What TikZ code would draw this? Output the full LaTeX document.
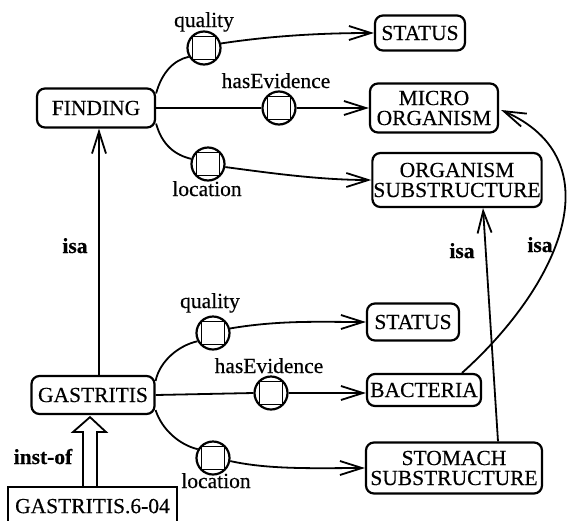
\documentclass[tikz,border=0pt]{standalone}
\usepackage{fontspec}
\setmainfont{Liberation Serif}[FakeBold=0.4]
\usetikzlibrary{arrows.meta,calc}
\begin{document}
\begin{tikzpicture}[x=1pt,y=-1pt,
  every node/.style={font=\fontsize{21.5}{20}\selectfont},
  box/.style={draw,line width=2.2pt,rounded corners=8pt,inner sep=1pt,align=center},
  rel/.style={draw,circle,line width=2.2pt,minimum size=33pt,inner sep=0pt,
    path picture={\draw[line width=1.8pt] ($(path picture bounding box.center)+(-11.5,-11.5)$) rectangle ++(23,23);}},
  conn/.style={line width=1.8pt},
  arr/.style={conn,-{Straight Barb[length=22pt,width=14pt,line width=1.8pt]}},
  lab/.style={anchor=base,inner sep=0pt},
  blab/.style={lab,font=\fontsize{21.5}{20}\selectfont\bfseries}]
\useasboundingbox (0,0) rectangle (570,520);

% upper part
\node[box,minimum width=118pt,minimum height=39pt] (find) at (96,108) {FINDING};
\node[rel] (q1) at (204,48) {};
\node[rel] (h1) at (279,108) {};
\node[rel] (l1) at (208,164) {};
\node[box,minimum width=90pt,minimum height=35pt] (st1) at (420,33) {STATUS};
\node[box,minimum width=128pt,minimum height=49pt] (micro) at (434,108) {MICRO\\ORGANISM};
\node[box,minimum width=169pt,minimum height=54pt] (osub) at (457,180) {ORGANISM\\SUBSTRUCTURE};

% lower part
\node[box,minimum width=123pt,minimum height=38pt] (gas) at (93,395) {GASTRITIS};
\node[rel] (q2) at (213,333) {};
\node[rel] (h2) at (271,393) {};
\node[rel] (l2) at (213,458) {};
\node[box,minimum width=92pt,minimum height=37pt] (st2) at (413,322) {STATUS};
\node[box,minimum width=114pt,minimum height=32pt] (bact) at (424,390) {BACTERIA};
\node[box,minimum width=176pt,minimum height=51pt] (stom) at (454,468) {STOMACH\\SUBSTRUCTURE};
\node[draw,line width=2.2pt,minimum width=169pt,minimum height=38pt,anchor=north,inner sep=0pt] (g604) at (92.5,486) {GASTRITIS.6-04};

% labels
\node[lab] (lq1) at (204,27) {quality};
\node[lab] (lh1) at (276,88) {hasEvidence};
\node[lab] (ll1) at (207,196) {location};
\node[blab] (isa1) at (75,253) {isa};
\node[lab] (lq2) at (210,308) {quality};
\node[lab] (lh2) at (269,373) {hasEvidence};
\node[lab] (ll2) at (216,488) {location};
\node[blab] (inst) at (43,464) {inst-of};
\node[blab] (isa2) at (462,258) {isa};
\node[blab] (isa3) at (540,252) {isa};

% upper connectors
\draw[conn] ($(find.north east)+(0,6)$) .. controls (162,72) and (174,60) .. (q1.210);
\draw[conn] (find.east) -- (h1.west);
\draw[conn] ($(find.south east)+(0,-5)$) .. controls (162,145) and (175,155) .. (l1.163);
\draw[arr] (q1.15) .. controls (270,36) and (320,33) .. (st1.west);
\draw[arr] (h1.east) -- (micro.west);
\draw[arr] (l1.-10) .. controls (270,173) and (320,180) .. (osub.west);

% lower connectors
\draw[conn] ($(gas.north east)+(0,6)$) .. controls (160,360) and (180,345) .. (q2.208);
\draw[conn] (gas.east) -- (h2.west);
\draw[conn] ($(gas.south east)+(0,-5)$) .. controls (162,430) and (180,445) .. (l2.150);
\draw[arr] (q2.15) .. controls (280,320) and (320,322) .. (st2.west);
\draw[arr] (h2.east) -- (bact.west |- h2.east);
\draw[arr] (l2.-10) .. controls (270,470) and (320,468) .. (stom.west);

% isa links
\draw[arr] ($(gas.north)+(6,0)$) -- ($(find.south)+(3,0)$);
\draw[arr] ($(stom.north)+(44,0)$) -- ($(osub.south)+(26,0)$);
\draw[arr] ($(bact.north)+(38,0)$) .. controls (560,285) and (615,160) .. ($(micro.east)+(2,2)$);

% inst-of
\coordinate (ib) at ($(g604.north)+(-2.5,0)$);
\draw[line width=1.8pt,line join=miter] ($(ib)+(-7,0)$) -- ($(ib)+(-7,-54)$) -- ($(ib)+(-17,-54)$)
  -- ($(gas.south)+(-3,2)$) -- ($(ib)+(16,-54)$) -- ($(ib)+(7,-54)$) -- ($(ib)+(7,0)$);
\end{tikzpicture}
\end{document}
